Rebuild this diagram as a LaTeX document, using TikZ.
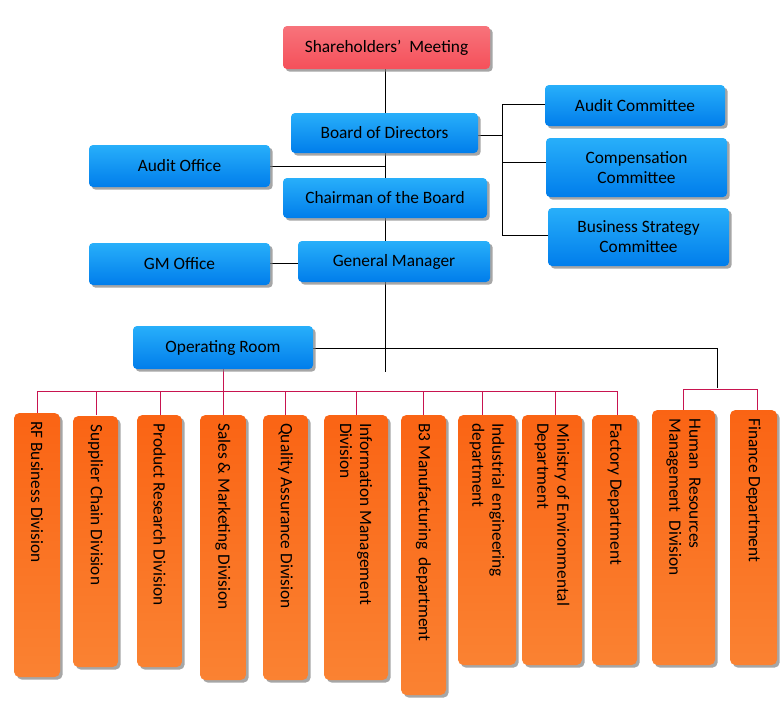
\documentclass[tikz,border=0pt]{standalone}
\usepackage{fontspec}
\setmainfont{Carlito}
\usetikzlibrary{shadows}
\definecolor{bluetop}{RGB}{40,175,250}
\definecolor{bluebot}{RGB}{0,125,235}
\definecolor{orgtop}{RGB}{250,100,20}
\definecolor{orgbot}{RGB}{250,130,50}
\definecolor{redbox}{RGB}{245,80,90}
\definecolor{linkred}{RGB}{200,20,80}
\tikzset{
  bluebox/.style={draw=none, rounded corners=3pt, top color=bluetop, bottom color=bluebot,
    drop shadow={shadow xshift=2pt, shadow yshift=-2pt, opacity=.7}, align=center, font=\fontsize{13}{15}\selectfont},
  redbox/.style={bluebox, top color=redbox!80, bottom color=redbox},
  deptbox/.style={draw=none, rounded corners=4pt, top color=orgtop, bottom color=orgbot,
    drop shadow={shadow xshift=2pt, shadow yshift=-2pt, opacity=.7}},
  depttext/.style={rotate=-90, anchor=west, align=left, font=\fontsize{13}{15}\selectfont, inner sep=0pt},
  link/.style={draw=black, line width=0.6pt},
  sublink/.style={draw=linkred, line width=0.6pt}
}
\newcommand{\ubox}[6]{% name, style, x1, y1, x2, y2 ; text in #7 via next
  \path[#2] (#3,#4) rectangle (#5,#6);
  \coordinate (#1) at ({(#3+#5)/2},{(#4+#6)/2});}
\begin{document}
\begin{tikzpicture}[x=0.75pt, y=-0.75pt]
\useasboundingbox (0,0) rectangle (780,714);
% lines behind the boxes
\draw[link] (385,69) -- (385,372);
\draw[link] (270,166) -- (385,166);
\draw[link] (270,263) -- (298,263);
\draw[link] (478,135) -- (502,135);
\draw[link] (545,104) -| (502,235) -- (548,235);
\draw[link] (502,162) -- (546,162);
\draw[link] (313,348) -| (717,388);
\draw[sublink] (223,369) -- (223,391);
\draw[sublink] (37,391) -- (617,391);
\foreach \sx in {37,96,160,223,285,356,423,482,555,617}
  \draw[sublink] (\sx,391) -- (\sx,415);
\draw[sublink] (683,412) |- (757,389) -- (757,412);
% upper boxes
\node[redbox, minimum width=207*0.75pt, minimum height=43*0.75pt] (meeting) at (386.5,47.5) {Shareholders’\ \ Meeting};
\node[bluebox, minimum width=187*0.75pt, minimum height=40*0.75pt] (board) at (384.5,133) {Board of Directors};
\node[bluebox, minimum width=181*0.75pt, minimum height=42*0.75pt] (auditoffice) at (179.5,166) {Audit Office};
\node[bluebox, minimum width=204*0.75pt, minimum height=40*0.75pt] (chairman) at (385,198) {Chairman of the Board};
\node[bluebox, minimum width=181*0.75pt, minimum height=42*0.75pt] (gmoffice) at (179.5,264) {GM Office};
\node[bluebox, minimum width=192*0.75pt, minimum height=41*0.75pt] (gm) at (394,261.5) {General Manager};
\node[bluebox, minimum width=180*0.75pt, minimum height=41*0.75pt] (auditcom) at (635,105.5) {Audit Committee};
\node[bluebox, minimum width=181*0.75pt, minimum height=59*0.75pt] (compcom) at (636.5,167.5) {Compensation\\Committee};
\node[bluebox, minimum width=181*0.75pt, minimum height=58*0.75pt] (bizcom) at (638.5,237) {Business Strategy\\Committee};
\node[bluebox, minimum width=180*0.75pt, minimum height=43*0.75pt] (oproom) at (223,347.5) {Operating Room};
% departments
\foreach \nm/\xa/\xb/\ya/\yb/\txt in {
  rf/14/60/413/677/{RF Business Division},
  supply/73/118/416/667/{Supplier Chain Division},
  product/137/182/415/667/{Product Research Division},
  sales/200/246/415/680/{Sales \& Marketing Division},
  quality/263/308/415/680/{Quality Assurance Division},
  info/324/388/415/680/{Information Management\\Division},
  bthree/401/446/415/695/{B3 Manufacturing\ \ department},
  indus/458/516/415/665/{Industrial engineering\\department},
  ministry/522/582/415/665/{Ministry of Environmental\\Department},
  factory/592/637/415/665/{Factory Department},
  hr/652/715/410/665/{Human\ \ Resources\\Management\ \ Division},
  finance/730/777/410/665/{Finance Department}} {
  \path[deptbox] (\xa,\ya) rectangle (\xb,\yb);
  \node[depttext] (\nm) at ({(\xa+\xb)/2},\ya+8) {\txt};
}
\end{tikzpicture}
\end{document}
